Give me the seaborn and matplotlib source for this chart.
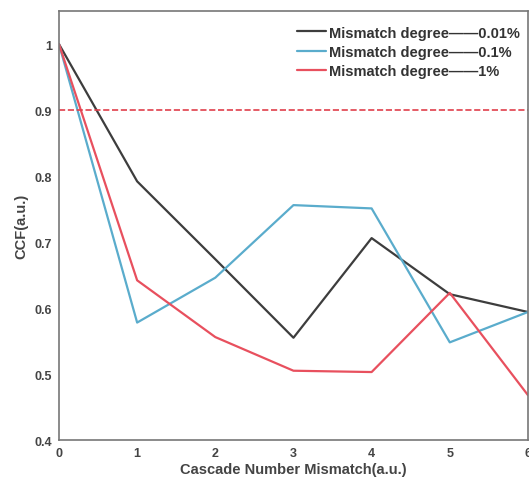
import matplotlib
matplotlib.use("Agg")
import matplotlib.pyplot as plt
import seaborn as sns
import pandas as pd

x_vals = [0, 1, 2, 3, 4, 5, 6]
ccf_001 = [1.0, 0.792, 0.674, 0.555, 0.706, 0.621, 0.594]
ccf_01 = [1.0, 0.578, 0.646, 0.756, 0.751, 0.548, 0.594]
ccf_1 = [1.0, 0.642, 0.556, 0.505, 0.503, 0.623, 0.468]
labels = ["Mismatch degree——0.01%", "Mismatch degree——0.1%", "Mismatch degree——1%"]
colors = ["#3d3d3d", "#5aaccc", "#e8505e"]
threshold = 0.9
yticks = [0.4, 0.5, 0.6, 0.7, 0.8, 0.9, 1.0]
yticklabels = ["0.4", "0.5", "0.6", "0.7", "0.8", "0.9", "1"]

df = pd.concat([
    pd.DataFrame({"x": x_vals, "y": s, "series": lab})
    for s, lab in zip([ccf_001, ccf_01, ccf_1], labels)
])

sns.set_style("white")
plt.rcParams['font.family'] = ['Liberation Sans', 'DejaVu Sans']

fig = plt.figure(figsize=(5.29, 4.85), dpi=100)
ax = fig.add_axes([0.1115, 0.0907, 0.8865, 0.8843])
sns.lineplot(data=df, x="x", y="y", hue="series", palette=colors, ax=ax,
             linewidth=1.6, legend=True)
ax.axhline(threshold, color="#e0404c", linestyle="--", linewidth=1.2)

ax.set_xlim(0, 6)
ax.set_ylim(0.4, 1.05)
ax.set_xticks(x_vals)
ax.set_yticks(yticks)
ax.set_yticklabels(yticklabels)
ax.tick_params(direction="in", length=3, labelsize=9, colors="#555555",
               labelcolor="#444444", pad=5)
for lab in ax.get_xticklabels() + ax.get_yticklabels():
    lab.set_fontweight("bold")
for sp in ax.spines.values():
    sp.set_color("#777777")
    sp.set_linewidth(1.2)

ax.set_xlabel("Cascade Number Mismatch(a.u.)", fontsize=10.5, fontweight="bold",
              color="#444444", labelpad=2)
ax.set_ylabel("CCF(a.u.)", fontsize=10.5, fontweight="bold", color="#444444",
              labelpad=4)

leg = ax.legend(loc="upper right", bbox_to_anchor=(1.01, 0.997), frameon=False,
                prop={"weight": "bold", "size": 10.5}, handlelength=2.0,
                handletextpad=0.15, labelspacing=0.35)
for t in leg.get_texts():
    t.set_color("#333333")
    t.set_fontweight("bold")

fig.savefig("out.png", dpi=100)
